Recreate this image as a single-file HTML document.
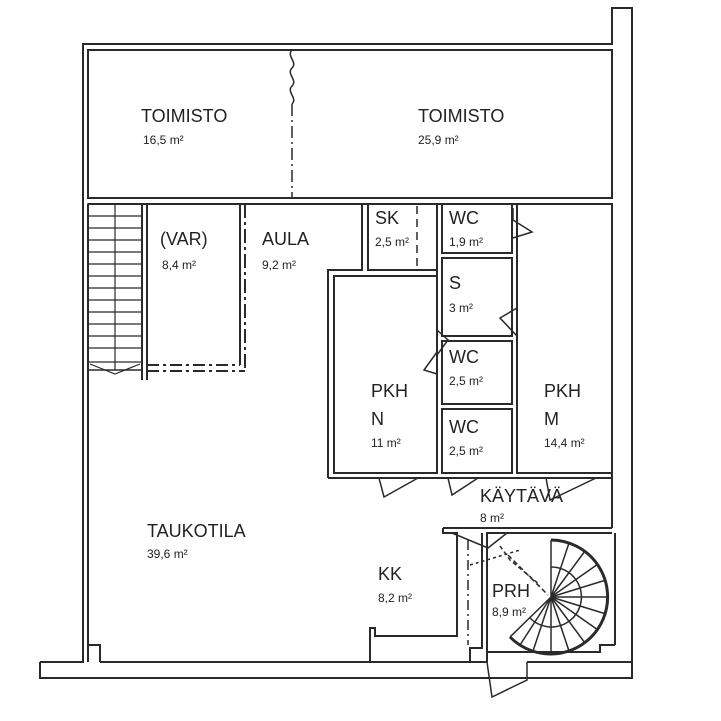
<!DOCTYPE html>
<html><head><meta charset="utf-8"><style>
html,body{margin:0;padding:0;background:#fff;}
svg{display:block}
text{font-family:"Liberation Sans",sans-serif;fill:#222;}
.l{font-size:18px}
.a{font-size:12px}
</style></head><body>
<svg width="721" height="721" viewBox="0 0 721 721" xmlns="http://www.w3.org/2000/svg">
<g fill="none" stroke="#2a2a2a" stroke-width="2">
<!-- outer -->
<polyline points="40,662 83,662 83,44 612,44 612,8 632,8 632,678 40,678 40,662"/>
<!-- offices -->
<rect x="88" y="50" width="524" height="148"/>
<polyline points="88,204 612,204"/>
<line x1="88" y1="204" x2="88" y2="662"/>
<line x1="612" y1="204" x2="612" y2="528"/>
<line x1="615" y1="533" x2="615" y2="645"/>
<!-- stair -->
<rect x="88" y="204" width="54" height="166" stroke-width="1.5"/>
<line x1="115" y1="204" x2="115" y2="370" stroke-width="1.2"/>
<g stroke-width="1.2">
<line x1="88" y1="216" x2="142" y2="216"/><line x1="88" y1="228" x2="142" y2="228"/><line x1="88" y1="240" x2="142" y2="240"/><line x1="88" y1="252" x2="142" y2="252"/><line x1="88" y1="264" x2="142" y2="264"/><line x1="88" y1="276" x2="142" y2="276"/><line x1="88" y1="288" x2="142" y2="288"/><line x1="88" y1="300" x2="142" y2="300"/><line x1="88" y1="312" x2="142" y2="312"/><line x1="88" y1="324" x2="142" y2="324"/><line x1="88" y1="336" x2="142" y2="336"/><line x1="88" y1="348" x2="142" y2="348"/><line x1="88" y1="362" x2="142" y2="362"/>
<polyline points="90,364 115,374 140,364"/>
</g>
<line x1="142" y1="204" x2="142" y2="380"/>
<line x1="147" y1="204" x2="147" y2="380"/>
<!-- VAR -->
<line x1="147" y1="365" x2="240" y2="365" stroke-dasharray="12,4,3,4"/>
<line x1="147" y1="371" x2="245" y2="371" stroke-dasharray="12,4,3,4"/>
<line x1="240" y1="204" x2="240" y2="365"/>
<line x1="245" y1="204" x2="245" y2="371" stroke-dasharray="14,4,3,4"/>
<!-- AULA right / PKH N -->
<polyline points="362,204 362,270 328,270 328,478"/>
<rect x="334" y="276" width="103" height="197"/>
<!-- SK -->
<rect x="368" y="204" width="69" height="66"/>
<line x1="417" y1="206" x2="417" y2="270" stroke-dasharray="8,5" stroke-width="1.5"/>
<!-- wet rooms -->
<rect x="442" y="204" width="70" height="49"/>
<rect x="442" y="258" width="70" height="78"/>
<rect x="442" y="341" width="70" height="63"/>
<rect x="442" y="409" width="70" height="64"/>
<line x1="437" y1="204" x2="437" y2="473"/>
<!-- PKH M -->
<rect x="517" y="204" width="95" height="269"/>
<line x1="328" y1="478" x2="612" y2="478"/>
<line x1="443" y1="528" x2="612" y2="528"/>
<polyline points="443,528 443,533 457,533 457,636 375,636 375,628 370,628 370,662"/>
<polyline points="482,533 482,648 470,648 470,662"/>
<line x1="468" y1="540" x2="468" y2="645" stroke-dasharray="10,4,2,4" stroke-width="1.5"/>
<!-- PRH -->
<polyline points="487,662 487,533 612,533"/>
<polyline points="615,645 600,645 600,652 487,652"/>
<line x1="100" y1="662" x2="487" y2="662"/>
<polyline points="88,645 100,645 100,662"/>
<line x1="527" y1="662" x2="632" y2="662"/>
<!-- doors -->
<g stroke-width="1.5">
<polyline points="513,208 513,220 532,232 513,238"/>
<polyline points="437,330 448,340 437,355"/>
<polyline points="517,336 500,318 517,308"/>
<polyline points="437,352 424,370 437,374"/>
<polyline points="379,478 384,497 418,478"/>
<polyline points="448,478 452,495 478,478"/>
<polyline points="546,478 550,500 596,478"/>
<polyline points="487,662 492,697 527,680 527,662"/>
<polyline points="452,533 488,548 507,533"/>
<polyline points="500,546 510,560 540,585" stroke-dasharray="4,3"/>
<polyline points="470,565 520,550" stroke-dasharray="3,3"/>
<line x1="508" y1="555" x2="548" y2="595" stroke-dasharray="5,3"/>
</g>
<!-- spiral stair -->
<g stroke-width="1.5">
<path d="M551,540 A57,57 0 1 1 510,637" stroke-width="3"/>
<path d="M551,567 A30,30 0 1 1 530,618"/>
<line x1="510" y1="637" x2="551" y2="597"/>
<line x1="551" y1="540" x2="551" y2="654"/>
<line x1="551" y1="597" x2="569" y2="543"/><line x1="551" y1="597" x2="585" y2="551"/><line x1="551" y1="597" x2="598" y2="564"/><line x1="551" y1="597" x2="606" y2="580"/><line x1="551" y1="597" x2="608" y2="597"/><line x1="551" y1="597" x2="606" y2="614"/><line x1="551" y1="597" x2="598" y2="630"/><line x1="551" y1="597" x2="585" y2="643"/><line x1="551" y1="597" x2="569" y2="651"/><line x1="551" y1="597" x2="533" y2="651"/><line x1="551" y1="597" x2="520" y2="645"/>
</g>
<!-- squiggle divider -->
<path d="M292,50 c-6,6 6,12 0,18 c-6,6 6,12 0,18 c-6,6 6,12 0,18" stroke-width="1.5"/>
<line x1="292" y1="104" x2="292" y2="198" stroke-dasharray="12,4,2,4" stroke-width="1.5"/>
</g>
<text class="l" x="141" y="122">TOIMISTO</text><text class="a" x="143" y="144">16,5 m²</text>
<text class="l" x="418" y="122">TOIMISTO</text><text class="a" x="418" y="144">25,9 m²</text>
<text class="l" x="160" y="245">(VAR)</text><text class="a" x="162" y="269">8,4 m²</text>
<text class="l" x="262" y="245">AULA</text><text class="a" x="262" y="269">9,2 m²</text>
<text class="l" x="375" y="224">SK</text><text class="a" x="375" y="246">2,5 m²</text>
<text class="l" x="449" y="224">WC</text><text class="a" x="449" y="246">1,9 m²</text>
<text class="l" x="449" y="289">S</text><text class="a" x="449" y="312">3 m²</text>
<text class="l" x="449" y="363">WC</text><text class="a" x="449" y="385">2,5 m²</text>
<text class="l" x="449" y="433">WC</text><text class="a" x="449" y="455">2,5 m²</text>
<text class="l" x="371" y="397">PKH</text><text class="l" x="371" y="425">N</text><text class="a" x="371" y="447">11 m²</text>
<text class="l" x="544" y="397">PKH</text><text class="l" x="544" y="425">M</text><text class="a" x="544" y="447">14,4 m²</text>
<text class="l" x="480" y="502">KÄYTÄVÄ</text><text class="a" x="480" y="522">8 m²</text>
<text class="l" x="147" y="537">TAUKOTILA</text><text class="a" x="147" y="558">39,6 m²</text>
<text class="l" x="378" y="580">KK</text><text class="a" x="378" y="602">8,2 m²</text>
<text class="l" x="492" y="597">PRH</text><text class="a" x="492" y="616">8,9 m²</text>
</svg>
</body></html>
